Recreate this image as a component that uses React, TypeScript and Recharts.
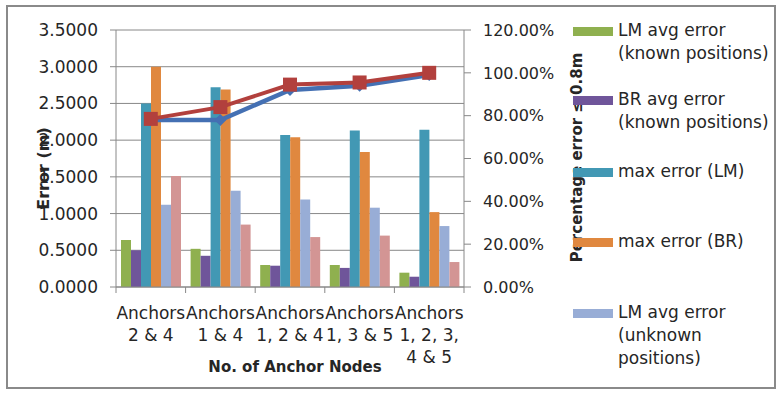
import React from 'react';
import {
  Bar,
  CartesianGrid,
  ComposedChart,
  Label,
  Line,
  XAxis,
  YAxis,
} from 'recharts';

const categories = [
  'Anchors\n2 & 4',
  'Anchors\n1 & 4',
  'Anchors\n1, 2 & 4',
  'Anchors\n1, 3 & 5',
  'Anchors\n1, 2, 3,\n4 & 5',
];

const lmKnown = [0.64, 0.52, 0.3, 0.3, 0.195];
const brKnown = [0.5, 0.425, 0.29, 0.26, 0.14];
const maxLM = [2.5, 2.72, 2.07, 2.13, 2.14];
const maxBR = [3.0, 2.69, 2.04, 1.84, 1.02];
const lmUnknown = [1.12, 1.31, 1.19, 1.08, 0.83];
const brUnknown = [1.51, 0.85, 0.68, 0.7, 0.34];

const pctLM = [0.78, 0.78, 0.92, 0.94, 0.99];
const pctBR = [0.785, 0.84, 0.945, 0.955, 1.0];

const errorTicks = [0, 0.5, 1, 1.5, 2, 2.5, 3, 3.5];
const pctTicks = [0, 0.2, 0.4, 0.6, 0.8, 1.0, 1.2];

const barSeries = [
  { key: 'lmKnown', name: 'LM avg error\n(known positions)', color: '#8FB04F' },
  { key: 'brKnown', name: 'BR avg error\n(known positions)', color: '#6F559A' },
  { key: 'maxLM', name: 'max error (LM)', color: '#4298B4' },
  { key: 'maxBR', name: 'max error (BR)', color: '#E0883F' },
  { key: 'lmUnknown', name: 'LM avg error\n(unknown\npositions)', color: '#98ADD6' },
  { key: 'brUnknown', name: 'BR avg error\n(unknown\npositions)', color: '#D39594' },
];

const data = categories.map((name, i) => ({
  name,
  lmKnown: lmKnown[i],
  brKnown: brKnown[i],
  maxLM: maxLM[i],
  maxBR: maxBR[i],
  lmUnknown: lmUnknown[i],
  brUnknown: brUnknown[i],
  pctLM: pctLM[i],
  pctBR: pctBR[i],
}));

const FONT = '"DejaVu Sans", sans-serif';
const TEXT = '#262626';
const AXIS = '#888888';

// category ticks sit on the band edges, labels in the middle
const CategoryTick = (props: any) => {
  const { x, y, payload, index } = props;
  const half = payload && payload.offset ? payload.offset : 34.8;
  const lines = String(payload.value).split('\n');
  const axisY = y - 8;
  return (
    <g>
      <line x1={x - half} x2={x - half} y1={axisY} y2={axisY + 6} stroke={AXIS} />
      {index === categories.length - 1 && (
        <line x1={x + half} x2={x + half} y1={axisY} y2={axisY + 6} stroke={AXIS} />
      )}
      <text x={x} y={y + 24} textAnchor="middle" fill={TEXT} fontSize={17} fontFamily={FONT}>
        {lines.map((l, i) => (
          <tspan key={i} x={x} dy={i === 0 ? 0 : 22}>
            {l}
          </tspan>
        ))}
      </text>
    </g>
  );
};

const SquareDot = (props: any) => {
  const { cx, cy } = props;
  if (cx == null || cy == null) return null;
  return <rect x={cx - 7} y={cy - 7} width={14} height={14} fill="#B2403D" />;
};

const DiamondDot = (props: any) => {
  const { cx, cy } = props;
  if (cx == null || cy == null) return null;
  return (
    <path
      d={`M${cx},${cy - 6} L${cx + 6},${cy} L${cx},${cy + 6} L${cx - 6},${cy} Z`}
      fill="#4470B3"
    />
  );
};

const legendTops = [19, 88, 160, 230, 301];

export default function App() {
  return (
    <div
      style={{
        position: 'absolute',
        left: 0,
        top: 0,
        width: 783,
        height: 397,
        background: '#fff',
        fontFamily: FONT,
      }}>
      <div
        style={{
          position: 'absolute',
          left: 6,
          top: 5,
          width: 766,
          height: 380,
          border: '2px solid #8a8a8a',
        }}
      />
      <ComposedChart
        width={783}
        height={397}
        data={data}
        margin={{ top: 30, right: 229, left: 56, bottom: 50 }}
        barCategoryGap={5}
        barGap={0}>
        <CartesianGrid vertical={false} stroke={AXIS} yAxisId="err" />
        <XAxis
          dataKey="name"
          tick={<CategoryTick />}
          tickLine={false}
          axisLine={{ stroke: AXIS }}
          interval={0}
          height={60}>
          <Label
            value="No. of Anchor Nodes"
            position="center"
            dx={5}
            dy={50}
            style={{ fontWeight: 'bold', fontSize: 15, fill: TEXT, fontFamily: FONT }}
          />
        </XAxis>
        <YAxis
          yAxisId="err"
          domain={[0, 3.5]}
          ticks={errorTicks}
          tickFormatter={(v: number) => v.toFixed(4)}
          width={60}
          tickSize={6}
          tickMargin={12}
          axisLine={{ stroke: AXIS }}
          tickLine={{ stroke: AXIS }}
          tick={{ fill: TEXT, fontSize: 17, fontFamily: FONT }}>
          <Label
            value="Error (m)"
            angle={-90}
            position="center"
            dx={-43}
            dy={10}
            style={{ fontWeight: 'bold', fontSize: 16, fill: TEXT, fontFamily: FONT }}
          />
        </YAxis>
        <YAxis
          yAxisId="pct"
          orientation="right"
          domain={[0, 1.2]}
          ticks={pctTicks}
          tickFormatter={(v: number) => (v * 100).toFixed(2) + '%'}
          width={90}
          tickSize={7}
          tickMargin={12}
          axisLine={{ stroke: AXIS }}
          tickLine={{ stroke: AXIS }}
          tick={{ fill: TEXT, fontSize: 16, fontFamily: FONT, textAnchor: 'start' }}>
          <Label
            value="Percentage error ≤ 0.8m"
            angle={-90}
            position="center"
            dx={68}
            dy={-1}
            style={{ fontWeight: 'bold', fontSize: 15, fill: TEXT, fontFamily: FONT }}
          />
        </YAxis>
        {barSeries.map((s) => (
          <Bar
            key={s.key}
            yAxisId="err"
            dataKey={s.key}
            name={s.name}
            fill={s.color}
            isAnimationActive={false}
          />
        ))}
        <Line
          yAxisId="pct"
          dataKey="pctLM"
          stroke="#4470B3"
          strokeWidth={4.5}
          dot={<DiamondDot />}
          activeDot={false}
          isAnimationActive={false}
        />
        <Line
          yAxisId="pct"
          dataKey="pctBR"
          stroke="#B2403D"
          strokeWidth={4}
          dot={<SquareDot />}
          activeDot={false}
          isAnimationActive={false}
        />
      </ComposedChart>
      {barSeries.slice(0, 5).map((s, i) => (
        <div
          key={s.key}
          style={{
            position: 'absolute',
            left: 573,
            top: legendTops[i],
            display: 'flex',
            alignItems: 'flex-start',
          }}>
          <div
            style={{
              width: 40,
              height: 9,
              background: s.color,
              marginTop: 8,
              marginRight: 5,
            }}
          />
          <div
            style={{
              fontSize: 17,
              lineHeight: '23px',
              color: TEXT,
              whiteSpace: 'pre',
            }}>
            {s.name}
          </div>
        </div>
      ))}
    </div>
  );
}
